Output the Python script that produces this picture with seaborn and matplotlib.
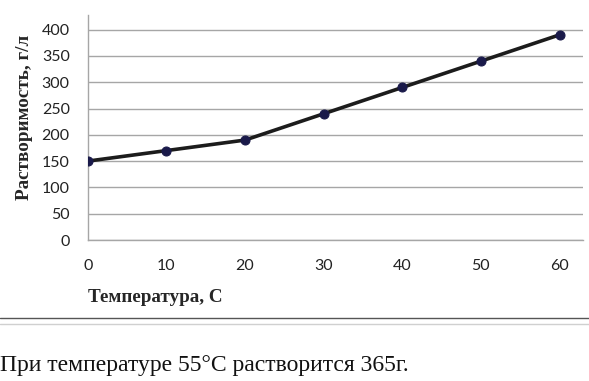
import seaborn as sns
import matplotlib.pyplot as plt
import pandas as pd
from matplotlib.lines import Line2D

# Data
temperature = [0, 10, 20, 30, 40, 50, 60]
solubility = [150, 170, 190, 240, 290, 340, 390]
y_ticks = [0, 50, 100, 150, 200, 250, 300, 350, 400]
x_ticks = [0, 10, 20, 30, 40, 50, 60]

df = pd.DataFrame({"Температура": temperature, "Растворимость": solubility})

sns.set_style("white")
plt.rcParams["font.family"] = ["Lato", "DejaVu Sans"]

fig = plt.figure(figsize=(5.89, 3.81), dpi=100)
ax = fig.add_axes([0.149, 0.37, 0.841, 0.591])

sns.lineplot(x="Температура", y="Растворимость", data=df, ax=ax,
             color="#1c1c1c", linewidth=2.6, marker="o", markersize=6.5,
             markerfacecolor="#1a1a4a", markeredgecolor="#1a1a4a", zorder=3)

ax.set_xlim(0, 63)
ax.set_ylim(0, 428)
ax.set_yticks(y_ticks)
ax.set_xticks(x_ticks)
ax.grid(axis="y", color="#a6a6a6", linewidth=1)
ax.grid(axis="x", visible=False)
for s in ["top", "right"]:
    ax.spines[s].set_visible(False)
for s in ["left", "bottom"]:
    ax.spines[s].set_color("#a6a6a6")
    ax.spines[s].set_linewidth(1)
ax.tick_params(axis="both", length=5, width=1, color="#a6a6a6",
               labelsize=11.5, labelcolor="#222222", direction="out")
ax.tick_params(axis="y", pad=8)
ax.tick_params(axis="x", pad=9)

ax.set_ylabel("")
ax.set_xlabel("")
fig.text(0.042, 0.693, "Растворимость, г/л", family="Liberation Serif",
         fontweight="bold", fontsize=13.8, rotation=90, ha="center", va="center")
fig.text(0.149, 0.218, "Температура, С", family="Liberation Serif",
         fontweight="bold", fontsize=13.8, ha="left", va="center")

fig.add_artist(Line2D([0, 1], [0.165, 0.165], color="#555555", linewidth=1,
                      transform=fig.transFigure))
fig.add_artist(Line2D([0, 1], [0.150, 0.150], color="#d0d0d0", linewidth=1,
                      transform=fig.transFigure))
fig.text(0.0, 0.04, "При температуре 55°С растворится 365г.",
         family="Liberation Serif", fontsize=17, ha="left", va="center",
         color="#111111")

fig.savefig("out.png", dpi=100, facecolor="white")
